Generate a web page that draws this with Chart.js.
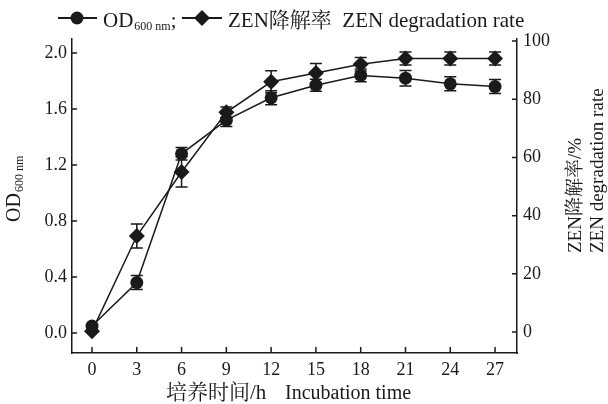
<!DOCTYPE html>
<html><head><meta charset="utf-8">
<script src="https://cdn.jsdelivr.net/npm/chart.js@4"></script>
<style>html,body{margin:0;padding:0;background:#fff}#wrap{width:608px;height:404px;position:relative}</style>
</head><body><div id="wrap"><canvas id="c"></canvas></div>
<script>
// ---- data ----
const times = [0, 3, 6, 9, 12, 15, 18, 21, 24, 27];
const odValues = [0.05, 0.36, 1.28, 1.52, 1.68, 1.77, 1.84, 1.82, 1.78, 1.76];
const odErrors = [0.015, 0.05, 0.045, 0.045, 0.05, 0.043, 0.045, 0.055, 0.05, 0.05];
const zenValues = [0.3, 33, 55, 75.5, 86, 89, 92, 94, 94, 94];
const zenErrors = [0, 4.1, 5.2, 1.8, 3.8, 3.3, 2.3, 2.2, 2.2, 2.2];
const xTickValues = [0, 3, 6, 9, 12, 15, 18, 21, 24, 27];
const odTickValues = [0, 0.4, 0.8, 1.2, 1.6, 2.0];
const zenTickValues = [0, 20, 40, 60, 80, 100];
const legendOD = ['OD', '600 nm', ';'];
const legendZEN = 'ZEN降解率  ZEN degradation rate';
const xTitleCN = '培养时间/h';
const xTitleEN = 'Incubation time';
const yRightTitle1 = 'ZEN降解率/%';
const yRightTitle2 = 'ZEN degradation rate';

const SERIF = "'Liberation Serif','Noto Serif CJK SC','Noto Sans CJK SC',serif";
const INK = '#1a1a1a';

const odData = times.map((t, i) => ({ x: t, y: odValues[i], e: odErrors[i] }));
const zenData = times.map((t, i) => ({ x: t, y: zenValues[i], e: zenErrors[i] }));

function fixTicks(vals) {
  return function (scale) { scale.ticks = vals.map(v => ({ value: v })); };
}

const decor = {
  id: 'decor',
  beforeDatasetsDraw(chart) {
    const ctx = chart.ctx;
    const xs = chart.scales.x;
    ctx.save();
    ctx.strokeStyle = INK;
    ctx.lineWidth = 1.5;
    [['yOD', odData], ['yZEN', zenData]].forEach(([sid, data]) => {
      const ys = chart.scales[sid];
      data.forEach(d => {
        if (!d.e) return;
        const px = xs.getPixelForValue(d.x);
        const top = ys.getPixelForValue(d.y + d.e);
        const bot = ys.getPixelForValue(d.y - d.e);
        ctx.beginPath();
        ctx.moveTo(px, top); ctx.lineTo(px, bot);
        ctx.moveTo(px - 6, top); ctx.lineTo(px + 6, top);
        ctx.moveTo(px - 6, bot); ctx.lineTo(px + 6, bot);
        ctx.stroke();
      });
    });
    ctx.restore();
  },
  afterDraw(chart) {
    const ctx = chart.ctx;
    const ca = chart.chartArea;
    const xs = chart.scales.x, yl = chart.scales.yOD, yr = chart.scales.yZEN;
    ctx.save();
    ctx.strokeStyle = INK;
    ctx.fillStyle = INK;
    ctx.lineWidth = 1.5;
    // inward ticks
    ctx.beginPath();
    xTickValues.forEach(v => { const p = xs.getPixelForValue(v); ctx.moveTo(p, ca.bottom); ctx.lineTo(p, ca.bottom - 6); });
    odTickValues.forEach(v => { const p = yl.getPixelForValue(v); ctx.moveTo(ca.left, p); ctx.lineTo(ca.left + 5, p); });
    zenTickValues.forEach(v => { const p = yr.getPixelForValue(v); ctx.moveTo(ca.right, p); ctx.lineTo(ca.right - 5, p); });
    ctx.stroke();

    // legend
    const ly = 18;
    ctx.lineWidth = 1.8;
    ctx.beginPath(); ctx.moveTo(58, ly); ctx.lineTo(97, ly); ctx.stroke();
    ctx.beginPath(); ctx.arc(77, ly, 6.5, 0, Math.PI * 2); ctx.fill();
    ctx.textBaseline = 'alphabetic';
    ctx.textAlign = 'left';
    ctx.font = '21px ' + SERIF;
    let x = 103;
    ctx.fillText(legendOD[0], x, 27); x += ctx.measureText(legendOD[0]).width + 1;
    ctx.font = '12px ' + SERIF;
    ctx.fillText(legendOD[1], x, 30); x += ctx.measureText(legendOD[1]).width;
    ctx.font = '21px ' + SERIF;
    ctx.fillText(legendOD[2], x, 27);
    ctx.beginPath(); ctx.moveTo(182, ly); ctx.lineTo(222, ly); ctx.stroke();
    ctx.beginPath(); ctx.moveTo(202, ly - 8); ctx.lineTo(210, ly); ctx.lineTo(202, ly + 8); ctx.lineTo(194, ly); ctx.closePath(); ctx.fill();
    ctx.fillText(legendZEN, 228, 27);

    // x title
    ctx.textAlign = 'left';
    ctx.font = '21px ' + SERIF;
    ctx.fillText(xTitleCN, 166, 399);
    ctx.font = '20px ' + SERIF;
    ctx.fillText(xTitleEN, 285, 399);

    // left title (rotated)
    ctx.save();
    ctx.translate(20, 222);
    ctx.rotate(-Math.PI / 2);
    ctx.textAlign = 'left';
    ctx.font = '20px ' + SERIF;
    ctx.fillText('OD', 0, 0);
    const w = ctx.measureText('OD').width + 1;
    ctx.font = '12px ' + SERIF;
    ctx.fillText('600 nm', w, 3);
    ctx.restore();

    // right titles (rotated)
    ctx.save();
    ctx.translate(581, 253);
    ctx.rotate(-Math.PI / 2);
    ctx.textAlign = 'left';
    ctx.font = '19px ' + SERIF;
    ctx.fillText(yRightTitle1, 0, 0);
    ctx.fillText(yRightTitle2, 0, 22);
    ctx.restore();

    ctx.restore();
  }
};

const tickFont = { family: SERIF, size: 18 };

new Chart(document.getElementById('c'), {
  type: 'line',
  data: {
    datasets: [
      {
        label: 'OD600', data: odData, yAxisID: 'yOD',
        borderColor: INK, backgroundColor: INK, borderWidth: 1.5,
        pointStyle: 'circle', pointRadius: 6.5, pointBorderWidth: 0, tension: 0
      },
      {
        label: 'ZEN', data: zenData, yAxisID: 'yZEN',
        borderColor: INK, backgroundColor: INK, borderWidth: 1.5,
        pointStyle: 'rectRot', pointRadius: 8, pointBorderWidth: 0, tension: 0
      }
    ]
  },
  options: {
    responsive: true, maintainAspectRatio: false, animation: false,
    devicePixelRatio: 1,
    layout: { padding: { top: 39, left: 0, right: 0, bottom: 0 } },
    plugins: { legend: { display: false }, tooltip: { enabled: false } },
    scales: {
      x: {
        type: 'linear', min: -1.34, max: 28.47,
        afterBuildTicks: fixTicks(xTickValues),
        afterFit(s) { s.height = 51; },
        grid: { display: false, drawTicks: false },
        border: { display: true, color: INK, width: 1.5 },
        ticks: { font: tickFont, color: INK, padding: 6, maxRotation: 0, autoSkip: false }
      },
      yOD: {
        type: 'linear', position: 'left', min: -0.143, max: 2.1,
        afterBuildTicks: fixTicks(odTickValues),
        afterFit(s) { s.width = 72; },
        grid: { display: false, drawTicks: false },
        border: { display: true, color: INK, width: 1.5 },
        ticks: { font: tickFont, color: INK, padding: 5, callback: v => v.toFixed(1) }
      },
      yZEN: {
        type: 'linear', position: 'right', min: -7.2, max: 100.7,
        afterBuildTicks: fixTicks(zenTickValues),
        afterFit(s) { s.width = 91; },
        grid: { display: false, drawTicks: false },
        border: { display: true, color: INK, width: 1.5 },
        ticks: { font: tickFont, color: INK, padding: 6, callback: v => String(v) }
      }
    }
  },
  plugins: [decor]
});
</script>
</body></html>
